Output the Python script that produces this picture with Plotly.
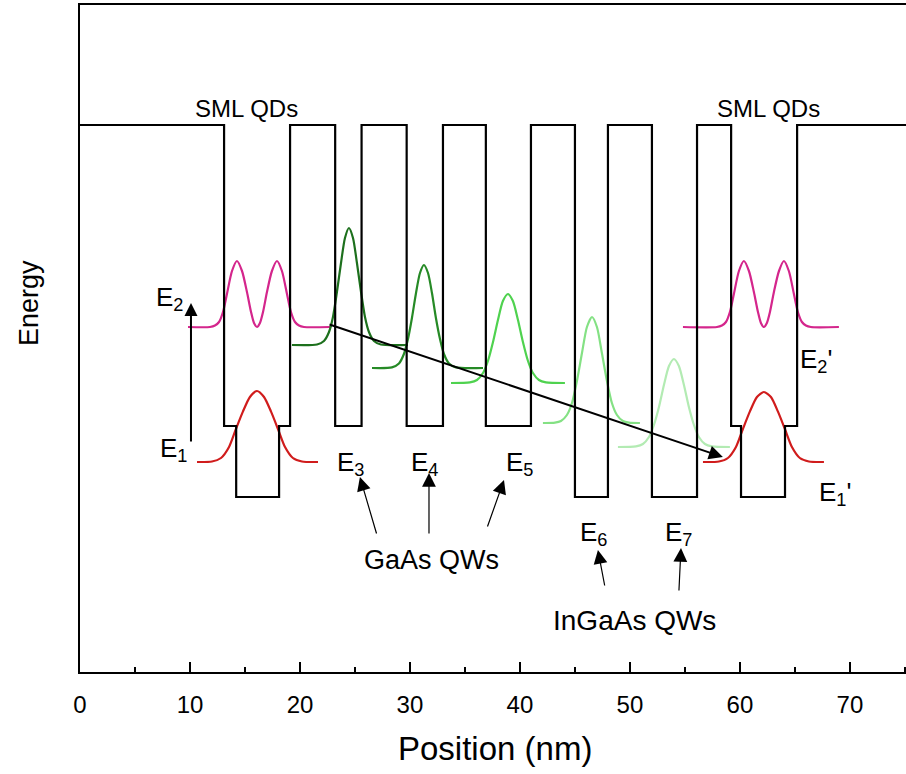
import plotly.graph_objects as go

# ---------------- conduction-band edge (position in nm, energy in arb. units) ----------------
band_x = [0, 13.1, 13.1, 14.2, 14.2, 18.1, 18.1, 19.1, 19.1, 23.2, 23.2, 25.6, 25.6,
          29.7, 29.7, 33.0, 33.0, 36.9, 36.9, 41.0, 41.0, 45.0, 45.0, 48.0, 48.0,
          52.0, 52.0, 56.1, 56.1, 59.2, 59.2, 60.1, 60.1, 64.1, 64.1, 65.2, 65.2, 76]
band_E = [547, 547, 246, 246, 175, 175, 246, 246, 547, 547, 246, 246, 547,
          547, 246, 246, 547, 547, 246, 246, 547, 547, 175, 175, 547,
          547, 175, 175, 547, 547, 246, 246, 175, 175, 246, 246, 547, 547]

# ---------------- probability densities of the confined states ----------------
e2_x = [9.82, 11.82, 12.27, 12.64, 13.0, 13.36, 13.82, 14.27, 14.73, 15.18, 15.55, 15.82, 16.09,
        16.36, 16.64, 17.0, 17.45, 17.91, 18.36, 18.82, 19.18, 19.55, 19.91, 20.36, 22.73]
e2_E = [345, 345, 346.5, 350, 360, 378, 401, 411, 401, 380, 360, 349, 345,
        349, 360, 380, 401, 411, 401, 378, 360, 350, 346.5, 345, 345]

e1_x = [10.64, 12.0, 12.82, 13.55, 14.18, 14.82, 15.45, 16.09, 16.73, 17.36, 18.0, 18.64, 19.36, 20.18, 21.64]
e1_E = [210, 210.5, 214, 225, 243, 260.6, 275, 281, 275, 260.6, 243, 225, 214, 210.5, 210]

e3_x = [19.27, 21.55, 22.18, 22.64, 23.0, 23.36, 23.73, 24.09, 24.45, 24.82, 25.18, 25.55,
        25.91, 26.27, 26.73, 27.36, 29.82]
e3_E = [327, 327.5, 331, 340, 355, 380, 409, 434, 444, 434, 409, 380, 355, 340, 331, 327.5, 327]

e4_x = [26.55, 28.36, 29.0, 29.45, 29.82, 30.18, 30.55, 30.91, 31.27, 31.64, 32.0, 32.36,
        32.73, 33.09, 33.55, 34.18, 36.64]
e4_E = [304, 304.6, 308.5, 318, 333, 354, 379, 399, 407, 399, 379, 354, 333, 318, 308.5, 304.6, 304]

e5_x = [33.73, 35.45, 36.09, 36.64, 37.09, 37.55, 38.0, 38.45, 38.91, 39.36, 39.82, 40.27,
        40.73, 41.18, 41.73, 42.36, 44.09]
e5_E = [289, 289.6, 292, 299, 311, 330, 352, 371, 378, 371, 352, 330, 311, 299, 292, 289.6, 289]

e6_x = [42.09, 43.18, 43.73, 44.27, 44.73, 45.18, 45.64, 46.09, 46.55, 47.0, 47.45, 47.91,
        48.36, 48.82, 49.36, 49.91, 50.91]
e6_E = [249, 249.3, 251, 257, 269, 291, 319, 345, 355, 345, 319, 291, 269, 257, 251, 249.3, 249]

e7_x = [48.91, 50.55, 51.18, 51.73, 52.18, 52.64, 53.09, 53.55, 54.0, 54.45, 54.91, 55.36,
        55.82, 56.27, 56.82, 57.45, 59.09]
e7_E = [225, 225.6, 228, 235, 247, 265, 287, 306, 313, 306, 287, 265, 247, 235, 228, 225.6, 225]

e2p_x = [54.82, 57.91, 58.36, 58.73, 59.09, 59.45, 59.91, 60.36, 60.82, 61.27, 61.64, 61.91, 62.18,
         62.45, 62.73, 63.09, 63.55, 64.0, 64.45, 64.91, 65.27, 65.64, 66.0, 66.45, 69.0]
e2p_E = e2_E

e1p_x = [56.64, 58.09, 58.91, 59.64, 60.27, 60.91, 61.55, 62.18, 62.82, 63.45, 64.09, 64.73, 65.45, 66.27, 67.64]
e1p_E = [210, 210.5, 214, 225, 243, 260.6, 275, 280, 275, 260.6, 243, 225, 214, 210.5, 210]

x_ticks = [0, 10, 20, 30, 40, 50, 60, 70]

FONT = "Arial, Liberation Sans, sans-serif"

fig = go.Figure()

states = [
    (e2_x, e2_E, "#d4268c"),
    (e1_x, e1_E, "#d01c1c"),
    (e3_x, e3_E, "#1d701d"),
    (e4_x, e4_E, "#268a26"),
    (e5_x, e5_E, "#4fd24f"),
    (e6_x, e6_E, "#84e184"),
    (e7_x, e7_E, "#b3ebb3"),
    (e2p_x, e2p_E, "#d4268c"),
    (e1p_x, e1p_E, "#d01c1c"),
]
for xs, es, col in states:
    fig.add_trace(go.Scatter(x=xs, y=es, mode="lines",
                             line=dict(color=col, width=2.2, shape="spline", smoothing=0.7),
                             hoverinfo="skip", showlegend=False))

fig.add_trace(go.Scatter(x=band_x, y=band_E, mode="lines",
                         line=dict(color="black", width=2.2),
                         hoverinfo="skip", showlegend=False))

ann = []

def arrow(x0, y0, x1, y1, width, size):
    ann.append(dict(x=x1, y=y1, ax=x0, ay=y0, xref="x", yref="y", axref="x", ayref="y",
                    text="", showarrow=True, arrowhead=2, arrowsize=size,
                    arrowwidth=width, arrowcolor="black"))

# transfer path E2 -> E1'
arrow(22.55, 348, 58.45, 215, 2.0, 1.4)
# excitation E1 -> E2
arrow(10.09, 229, 10.09, 369, 2.0, 1.3)
# pointers to the quantum wells
arrow(27.0, 137, 25.45, 195, 1.2, 2.3)
arrow(31.73, 137, 31.73, 199, 1.2, 2.3)
arrow(37.0, 144, 38.55, 192, 1.2, 2.3)
arrow(47.73, 85, 47.09, 122, 1.2, 2.3)
arrow(54.45, 80, 54.64, 124, 1.2, 2.3)

def label(x, y, txt, size):
    ann.append(dict(x=x, y=y, xref="x", yref="y", text=txt, showarrow=False,
                    font=dict(family=FONT, size=size, color="black"),
                    xanchor="center", yanchor="middle"))

label(15.18, 564, "SML QDs", 24)
label(62.64, 564, "SML QDs", 24)
label(8.1, 374, "E<sub>2</sub>", 26)
label(8.5, 223, "E<sub>1</sub>", 26)
label(24.55, 209, "E<sub>3</sub>", 26)
label(31.36, 209, "E<sub>4</sub>", 26)
label(40.0, 209, "E<sub>5</sub>", 26)
label(46.73, 139, "E<sub>6</sub>", 26)
label(54.45, 139, "E<sub>7</sub>", 26)
label(66.9, 312, "E<sub>2</sub>'", 26)
label(68.6, 179, "E<sub>1</sub>'", 26)
label(32.0, 112, "GaAs QWs", 27)
label(50.45, 52, "InGaAs QWs", 28)

ann.append(dict(x=-0.062, y=0.553, xref="paper", yref="paper", text="Energy", textangle=-90,
                showarrow=False, font=dict(family=FONT, size=27, color="black"),
                xanchor="center", yanchor="middle"))
ann.append(dict(x=0.502, y=-0.114, xref="paper", yref="paper", text="Position (nm)",
                showarrow=False, font=dict(family=FONT, size=33, color="black"),
                xanchor="center", yanchor="middle"))

fig.update_layout(
    width=906, height=774,
    margin=dict(l=80, r=0, t=5, b=102),
    paper_bgcolor="white", plot_bgcolor="white",
    annotations=ann,
    xaxis=dict(range=[0, 75.1], showgrid=False, zeroline=False,
               showline=True, linecolor="black", linewidth=2, mirror=True,
               tickmode="array", tickvals=x_ticks, ticktext=[str(v) for v in x_ticks],
               ticks="inside", ticklen=10, tickwidth=1.5, tickcolor="black",
               ticklabelstandoff=10,
               minor=dict(ticks="inside", ticklen=5, tickwidth=1.5, tickcolor="black",
                          dtick=5, tick0=0, showgrid=False),
               tickfont=dict(family=FONT, size=24, color="black")),
    yaxis=dict(range=[0, 667], showgrid=False, zeroline=False,
               showline=True, linecolor="black", linewidth=2,
               ticks="", showticklabels=False),
)

fig.write_html("out.html")
